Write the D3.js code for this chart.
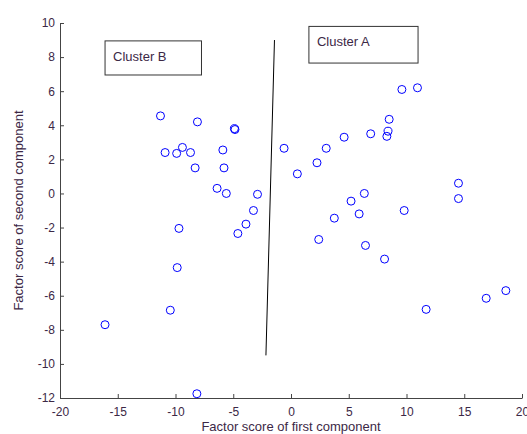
<!DOCTYPE html>
<html>
<head>
<meta charset="utf-8">
<script src="https://cdn.jsdelivr.net/npm/d3@7"></script>
<style>
  body { margin: 0; background: #fff; }
  svg text { font-family: "Liberation Sans", Arial, sans-serif; }
</style>
</head>
<body>
<div id="graph"></div>
<script>
// factor scores
const firstScore = [
  -11.3, -10.9, -9.9, -9.4, -8.7, -8.3, -8.1, -5.9, -5.8, -4.9, -4.85,
  -6.4, -5.6, -2.9, -3.25, -9.7, -9.85, -10.45, -16.1, -8.15, -4.6, -3.9,
  -0.6, 0.55, 2.25, 3.05, 4.6, 6.9, 8.3, 8.4, 8.5, 9.6, 10.95,
  14.5, 14.5, 6.35, 5.2, 5.9, 9.8, 3.75, 2.4, 6.45, 8.1, 11.7, 16.9, 18.6
]
const secondScore = [
  4.55, 2.4, 2.35, 2.7, 2.4, 1.5, 4.2, 2.55, 1.5, 3.8, 3.75,
  0.3, 0.0, -0.05, -1.0, -2.05, -4.35, -6.85, -7.7, -11.75, -2.35, -1.8,
  2.65, 1.15, 1.8, 2.65, 3.3, 3.5, 3.35, 3.65, 4.35, 6.1, 6.2,
  0.6, -0.3, 0.0, -0.45, -1.2, -1.0, -1.45, -2.7, -3.05, -3.85, -6.8, -6.15, -5.7
]
const divider = [[-1.43, 9.0], [-2.17, -9.5]]
const clusterLabels = ['Cluster B', 'Cluster A']
const clusterBoxX = [[-16.1, -7.75], [1.55, 11.0]]
const clusterBoxY = [[8.95, 6.95], [9.8, 7.65]]
const xTicks = [-20, -15, -10, -5, 0, 5, 10, 15, 20]
const yTicks = [-12, -10, -8, -6, -4, -2, 0, 2, 4, 6, 8, 10]
const xTitle = 'Factor score of first component'
const yTitle = 'Factor score of second component'

const W = 527, H = 434, marginLeft = 60, marginTop = 23, width = 462, height = 375
const tickColor = '#3c2846', axisColor = '#444'

const x = d3.scaleLinear().domain([-20, 20]).range([0, width])
const y = d3.scaleLinear().domain([-12, 10]).range([height, 0])

const svg = d3.select('#graph').append('svg')
  .attr('width', W).attr('height', H)
  .append('g')
  .attr('transform', `translate(${marginLeft}, ${marginTop})`)

// plain hyphen for negatives, like the original
const fmt = d => String(d)
const xAxis = d3.axisBottom(x).tickValues(xTicks).tickFormat(fmt).tickSizeInner(-4).tickSizeOuter(0).tickPadding(9)
const yAxis = d3.axisLeft(y).tickValues(yTicks).tickFormat(fmt).tickSizeInner(-4).tickSizeOuter(0).tickPadding(5)

const gx = svg.append('g').attr('transform', `translate(0, ${height})`).call(xAxis)
const gy = svg.append('g').call(yAxis)
;[gx, gy].forEach(g => {
  g.select('.domain').attr('stroke', axisColor)
  g.selectAll('.tick line').attr('stroke', axisColor)
  g.selectAll('.tick text').attr('fill', tickColor).style('font-size', '12px')
})

svg.append('text')
  .attr('x', width / 2).attr('y', height + 33)
  .attr('text-anchor', 'middle')
  .attr('fill', tickColor)
  .style('font-size', '13px')
  .text(xTitle)

svg.append('text')
  .attr('transform', `translate(-37, ${height / 2}) rotate(-90)`)
  .attr('text-anchor', 'middle')
  .attr('fill', tickColor)
  .style('font-size', '13px')
  .text(yTitle)

// dividing line between the clusters
svg.append('line')
  .attr('x1', x(divider[0][0])).attr('y1', y(divider[0][1]))
  .attr('x2', x(divider[1][0])).attr('y2', y(divider[1][1]))
  .attr('stroke', '#000').attr('stroke-width', 1)

const boxes = svg.selectAll('g.box').data(clusterLabels).enter().append('g').attr('class', 'box')
boxes.append('rect')
  .attr('x', (d, i) => x(clusterBoxX[i][0]))
  .attr('y', (d, i) => y(clusterBoxY[i][0]))
  .attr('width', (d, i) => x(clusterBoxX[i][1]) - x(clusterBoxX[i][0]))
  .attr('height', (d, i) => y(clusterBoxY[i][1]) - y(clusterBoxY[i][0]))
  .attr('fill', 'none').attr('stroke', '#333').attr('stroke-width', 1)
boxes.append('text')
  .attr('x', (d, i) => x(clusterBoxX[i][0]) + 8)
  .attr('y', (d, i) => y(clusterBoxY[i][0]) + 20)
  .attr('fill', '#3c2846')
  .style('font-size', '13px')
  .text(d => d)

svg.selectAll('circle').data(firstScore).enter().append('circle')
  .attr('cx', d => x(d))
  .attr('cy', (d, i) => y(secondScore[i]))
  .attr('r', 4)
  .attr('fill', 'none')
  .attr('stroke', '#0000ff')
  .attr('stroke-width', 1)
</script>
</body>
</html>
